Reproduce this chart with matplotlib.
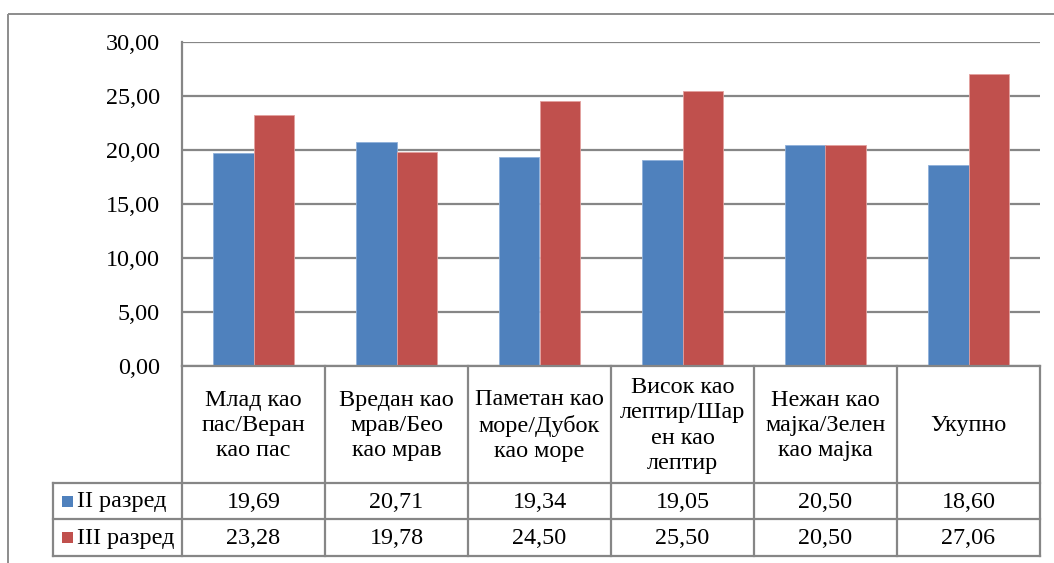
import matplotlib
matplotlib.use("Agg")
import matplotlib.pyplot as plt
from matplotlib.patches import Rectangle
from matplotlib.lines import Line2D

# Data
categories = [
    "Млад као\nпас/Веран\nкао пас",
    "Вредан као\nмрав/Бео\nкао мрав",
    "Паметан као\nморе/Дубок\nкао море",
    "Висок као\nлептир/Шар\nен као\nлептир",
    "Нежан као\nмајка/Зелен\nкао мајка",
    "Укупно",
]
series_names = ["II разред", "III разред"]
grade2 = [19.69, 20.71, 19.34, 19.05, 20.50, 18.60]
grade3 = [23.28, 19.78, 24.50, 25.50, 20.50, 27.06]
y_ticks = [0, 5, 10, 15, 20, 25, 30]

BLUE = "#4F81BD"
RED = "#C0504D"
GRID = "#868686"
FONT = ["Liberation Serif", "DejaVu Serif"]
FS = 17.4

W, H = 1054, 563
fig = plt.figure(figsize=(W / 100, H / 100), dpi=100)

# Pixel geometry of the layout
px_left, px_right, px_top, px_zero = 182, 1040, 42, 366
row1_top, row2_top, table_bottom = 483, 519, 556
legend_left = 53

ax = fig.add_axes([px_left / W, 1 - px_zero / H,
                   (px_right - px_left) / W, (px_zero - px_top) / H])
n = len(categories)
x = list(range(n))
bw = 0.28
ax.bar([i - bw / 2 for i in x], grade2, width=bw, color=BLUE,
       edgecolor="#8FB0DA", linewidth=0.6, zorder=3)
ax.bar([i + bw / 2 for i in x], grade3, width=bw, color=RED,
       edgecolor="#E3A09E", linewidth=0.6, zorder=3)
ax.set_xlim(-0.5, n - 0.5)
ax.set_ylim(0, 30)
ax.set_yticks(y_ticks)
ax.set_yticklabels([f"{v:.2f}".replace(".", ",") for v in y_ticks],
                   fontfamily=FONT, fontsize=FS)
ax.tick_params(axis="y", length=0, pad=16)
ax.set_xticks([])
ax.yaxis.grid(True, color=GRID, linewidth=1.6, zorder=0)
for s in ["top", "right", "bottom"]:
    ax.spines[s].set_visible(False)
ax.spines["left"].set_color(GRID)
ax.spines["left"].set_linewidth(1.6)
ax.patch.set_alpha(0)

# Overlays in pixel coordinates for the frame and the data table
ov = fig.add_axes([0, 0, 1, 1], zorder=-1)
ov.set_xlim(0, W)
ov.set_ylim(H, 0)
ov.axis("off")
ov2 = fig.add_axes([0, 0, 1, 1], zorder=5)
ov2.set_xlim(0, W)
ov2.set_ylim(H, 0)
ov2.axis("off")
ov2.patch.set_alpha(0)

ov.add_patch(Rectangle((8, 14), 1100, 600, fill=False, edgecolor="#8C8C8C",
                       linewidth=1.4))

col_w = (px_right - px_left) / n
col_edges = [px_left + i * col_w for i in range(n + 1)]

def hline(y, x0, x1):
    ov2.add_line(Line2D([x0, x1], [y, y], color=GRID, linewidth=1.6))

def vline(x0, y0, y1):
    ov2.add_line(Line2D([x0, x0], [y0, y1], color=GRID, linewidth=1.6))

hline(px_zero, px_left, px_right)
for yy in (row1_top, row2_top, table_bottom):
    hline(yy, legend_left, px_right)
vline(legend_left, row1_top, table_bottom)
for xe in col_edges:
    vline(xe, px_zero, table_bottom)

# Header row: category names
for i, cat in enumerate(categories):
    cx = (col_edges[i] + col_edges[i + 1]) / 2
    ov2.text(cx, (px_zero + row1_top) / 2 + 1, cat, ha="center", va="center",
             fontfamily=FONT, fontsize=FS, linespacing=1.26)

# Value rows with legend keys
rows = [(series_names[0], BLUE, grade2, row1_top, row2_top),
        (series_names[1], RED, grade3, row2_top, table_bottom)]
for name, color, vals, y0, y1 in rows:
    cy = (y0 + y1) / 2
    ov2.add_patch(Rectangle((62, cy - 5.5), 11, 11, color=color, linewidth=0))
    ov2.text(77, cy + 1, name, ha="left", va="center",
             fontfamily=FONT, fontsize=FS)
    for i, v in enumerate(vals):
        cx = (col_edges[i] + col_edges[i + 1]) / 2
        ov2.text(cx, cy + 1, f"{v:.2f}".replace(".", ","), ha="center",
                 va="center", fontfamily=FONT, fontsize=FS)

fig.savefig("out.png", dpi=100, facecolor="white")
